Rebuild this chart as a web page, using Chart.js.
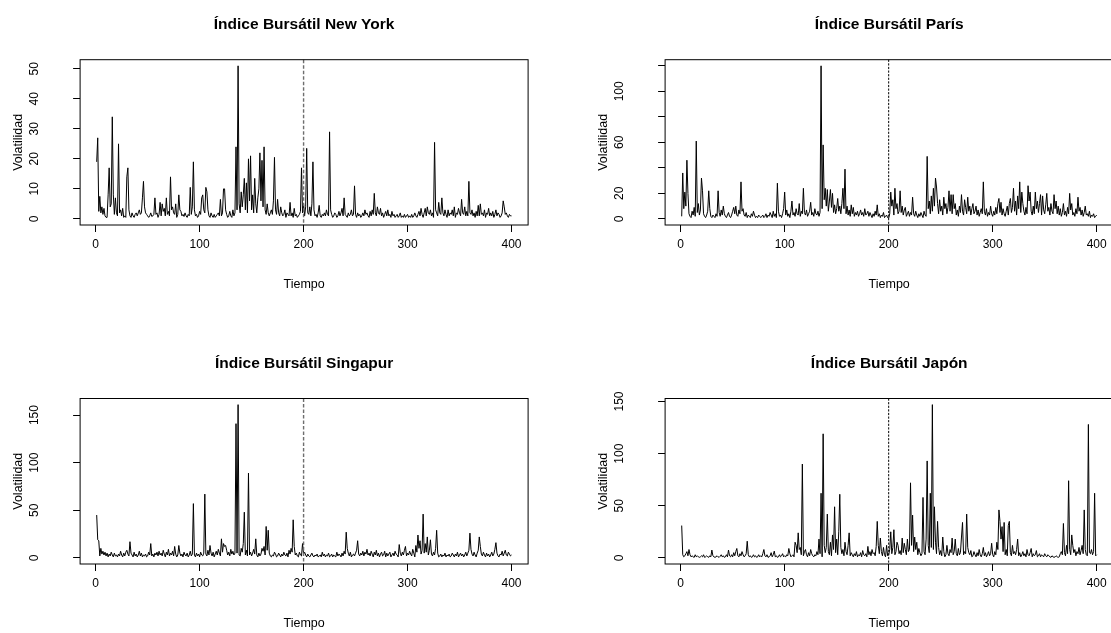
<!DOCTYPE html>
<html>
<head>
<meta charset="utf-8">
<script src="https://cdn.jsdelivr.net/npm/chart.js@4.4.1/dist/chart.umd.min.js"></script>
<style>
	html, body { margin: 0; padding: 0; background: #fff; overflow: hidden; }
	#hoja { position: relative; width: 1111px; height: 633px; overflow: hidden; background: #fff; }
	#hoja canvas { position: absolute; }
</style>
</head>
<body>
<div id="hoja"></div>
<script type="text/javascript">

// eje x: tiempo 1..400, linea de corte en t = 200
var tiempo = [];
for (var i = 1; i <= 400; i++) tiempo.push(i);
var ticksTiempo = [0, 100, 200, 300, 400];
var rangoTiempo = [-14.96, 415.96];
var corte = 200;

// volatilidad (20 valores por fila)
var volNY = [
	19, 27, 2.5, 7.5, 2, 4, 1.5, 3.5, 1, 0.5, 0.5, 8, 17, 4, 5, 34, 8, 1.5, 7, 2,
	1, 25, 2, 3, 1, 3.5, 0.5, 1, 0.5, 14, 17, 3, 1, 0.5, 2, 1, 0.5, 1.5, 2, 1,
	2, 3, 1.5, 2, 7, 12.5, 4, 2, 1.5, 1, 0.5, 1, 2, 0.8, 1, 1.5, 7, 1.5, 2, 0.5,
	1.5, 5.5, 1, 5, 2.5, 3.5, 1, 7, 1.5, 2.5, 1, 14, 3, 4, 2, 1.5, 5, 0.5, 1.5, 8,
	3, 2.5, 1, 1.5, 0.8, 2, 1, 0.5, 1.5, 1, 10.5, 1.5, 4, 19, 3, 1, 1.5, 0.5, 1, 2.5,
	1.5, 7, 8, 3, 2, 10.5, 9, 3, 1, 0.5, 2, 1, 0.5, 1.5, 0.5, 1, 1.5, 2, 1, 6.5,
	1, 2, 10, 10, 3, 1.5, 0.5, 1, 2.5, 1, 0.5, 3, 1, 2, 24, 3, 51, 5, 2, 9,
	4, 8, 13.5, 3, 12, 2, 20, 6, 21, 3, 8, 2, 13.5, 5, 2, 7, 10, 22, 6, 19.5,
	4, 24, 3, 1.5, 5, 2, 1, 2, 3, 1.5, 6, 20.5, 3, 1.5, 6.5, 2, 1, 4, 2, 1,
	1.5, 3, 0.5, 2, 1.5, 1, 5.5, 1, 2, 0.5, 3.5, 1, 1.5, 0.5, 1, 1.5, 2.5, 17, 2, 5,
	1, 4, 23.5, 2, 1.5, 4, 1, 5, 19, 3, 1, 1.5, 0.5, 2, 4.5, 1, 0.5, 1.5, 1, 2,
	1, 3, 1.5, 1, 29, 3, 1.5, 0.5, 1, 2, 1.5, 0.5, 1, 2.5, 1, 2, 3.5, 1, 7, 1.5,
	1, 0.5, 2, 1, 1.5, 3, 1, 1.5, 11, 1.5, 0.5, 2, 1, 1.5, 0.5, 1, 2, 1, 3, 1.5,
	2, 1, 0.5, 2.5, 1, 3, 1.5, 8.5, 2, 1, 4, 2, 1.5, 3.5, 1, 2, 0.5, 1.5, 2.5, 1,
	3, 1, 1.5, 0.5, 2.5, 1, 1.5, 0.5, 1, 1.5, 0.5, 1, 2, 0.5, 1, 0.5, 1.5, 0.5, 1, 1.5,
	0.5, 1, 0.5, 1.5, 0.5, 1, 2, 1, 0.5, 1.5, 2.5, 1, 3.5, 1.5, 0.5, 2, 3.5, 1, 4, 2,
	1.5, 3, 1, 2, 0.5, 25.5, 3, 2, 1, 5.5, 2, 1.5, 7, 2, 1, 3, 1.5, 0.5, 3, 1,
	2, 1.5, 3, 1, 4, 0.5, 2, 1.5, 3.5, 2, 1, 6.5, 2, 1.5, 4, 1, 2.5, 1, 12.5, 2,
	1.5, 3, 1, 2, 0.5, 2.5, 1, 4.5, 1, 5, 1.5, 2, 1, 3, 0.5, 2, 1.5, 3.5, 1, 2,
	1, 2.5, 0.5, 1.5, 3, 1, 2, 1.5, 0.5, 1, 2, 6, 4, 1.5, 2, 1, 0.5, 1.5, 1, 1
];

var volParis = [
	2, 36, 8, 21, 10, 46, 20, 4, 2, 1, 6, 3, 9, 2, 61, 5, 12, 3, 7, 32,
	22, 4, 2, 1, 3, 6, 22, 8, 2, 1, 3, 2, 1, 4, 2, 22, 5, 2, 7, 3,
	10, 4, 2, 1, 3, 5, 2, 1, 3, 6, 9, 4, 10, 3, 2, 7, 4, 29, 6, 8,
	3, 2, 5, 1, 3, 2, 1, 4, 2, 6, 3, 1, 2, 1, 3, 2, 1, 2, 3, 1,
	2, 4, 1, 3, 2, 5, 3, 1, 6, 2, 4, 1, 28, 6, 2, 3, 1, 4, 8, 21,
	3, 7, 2, 4, 1, 6, 14, 3, 5, 2, 8, 4, 3, 12, 2, 6, 4, 24, 5, 3,
	7, 2, 4, 6, 13, 3, 5, 2, 8, 4, 3, 6, 2, 5, 120, 8, 58, 15, 24, 10,
	23, 6, 14, 23, 9, 20, 5, 11, 4, 8, 16, 6, 10, 4, 12, 24, 8, 39, 4, 10,
	3, 7, 2, 11, 4, 9, 2, 5, 3, 6, 2, 4, 7, 3, 5, 2, 8, 3, 4, 6,
	2, 5, 3, 1, 4, 2, 6, 3, 11, 2, 4, 1, 3, 2, 5, 1, 2, 3, 1, 0.5,
	4, 21, 10, 15, 3, 24, 8, 12, 4, 6, 22, 5, 10, 3, 7, 9, 2, 4, 6, 2,
	5, 3, 17, 4, 2, 6, 3, 1, 4, 2, 5, 3, 1, 6, 3, 2, 49, 8, 14, 4,
	18, 6, 24, 10, 32, 25, 12, 4, 15, 6, 10, 3, 17, 8, 12, 4, 9, 22, 6, 19,
	4, 19, 8, 12, 3, 7, 2, 10, 5, 19, 6, 3, 15, 9, 4, 17, 6, 10, 3, 8,
	12, 4, 6, 10, 3, 7, 2, 5, 8, 4, 29, 6, 3, 8, 2, 5, 3, 10, 4, 2,
	6, 3, 9, 4, 12, 16, 5, 13, 3, 8, 4, 2, 6, 10, 3, 12, 16, 5, 9, 24,
	6, 14, 3, 18, 8, 29, 5, 21, 12, 6, 3, 9, 4, 26, 14, 21, 6, 3, 10, 4,
	21, 8, 14, 5, 12, 19, 3, 18, 7, 4, 11, 20, 6, 9, 3, 12, 6, 4, 19, 8,
	14, 4, 10, 3, 8, 2, 5, 12, 3, 6, 2, 9, 4, 20, 7, 12, 3, 5, 2, 8,
	4, 17, 6, 9, 3, 7, 2, 5, 10, 3, 4, 2, 6, 1, 3, 2, 4, 1, 2, 3
];

var volSingapur = [
	45, 19, 18, 2, 10, 4, 7, 3, 6, 2, 5, 1, 4, 2, 6, 3, 1, 5, 2, 3,
	1, 4, 2, 7, 3, 1, 5, 2, 6, 8, 4, 2, 17, 5, 3, 1, 6, 2, 4, 1,
	3, 7, 2, 5, 1, 3, 2, 4, 1, 2, 6, 3, 15, 2, 4, 1, 5, 3, 6, 2,
	7, 3, 5, 2, 8, 4, 1, 6, 3, 9, 2, 5, 3, 7, 2, 12, 4, 1, 3, 13,
	5, 2, 4, 1, 6, 3, 2, 5, 1, 3, 7, 2, 4, 57, 3, 1, 5, 2, 4, 1,
	6, 3, 2, 5, 67, 4, 2, 8, 3, 13, 5, 2, 6, 1, 4, 7, 3, 9, 5, 2,
	20, 6, 15, 12, 13, 8, 3, 6, 2, 9, 4, 7, 3, 5, 141, 5, 161, 3, 2, 10,
	6, 15, 48, 3, 8, 2, 89, 3, 6, 2, 5, 9, 4, 20, 3, 1, 5, 2, 4, 10,
	7, 12, 3, 33, 8, 29, 5, 2, 1, 3, 2, 6, 4, 1, 2, 5, 3, 1, 4, 2,
	6, 3, 2, 5, 1, 8, 4, 10, 6, 40, 12, 3, 5, 2, 1, 6, 3, 2, 15, 4,
	6, 3, 1, 4, 2, 1, 3, 5, 2, 1, 3, 2, 4, 1, 2, 3, 1, 6, 2, 4,
	1, 3, 2, 5, 1, 2, 4, 1, 3, 2, 1, 6, 2, 4, 3, 1, 5, 2, 7, 4,
	27, 10, 5, 2, 6, 1, 3, 4, 2, 5, 8, 18, 4, 2, 5, 3, 7, 2, 6, 4,
	9, 3, 5, 2, 7, 4, 1, 6, 3, 8, 2, 5, 1, 4, 6, 2, 3, 7, 1, 5,
	2, 4, 6, 1, 3, 5, 2, 7, 4, 3, 1, 14, 5, 2, 6, 3, 8, 12, 2, 5,
	3, 7, 4, 2, 9, 5, 1, 13, 6, 24, 10, 18, 4, 8, 46, 5, 15, 6, 22, 3,
	8, 19, 4, 2, 6, 3, 10, 29, 5, 1, 2, 4, 1, 3, 2, 5, 1, 3, 2, 4,
	1, 2, 5, 3, 1, 4, 2, 6, 1, 3, 5, 2, 4, 1, 3, 6, 2, 5, 8, 26,
	9, 4, 2, 6, 3, 1, 5, 8, 22, 12, 4, 2, 6, 3, 1, 5, 2, 4, 1, 3,
	6, 2, 4, 9, 16, 5, 2, 1, 4, 3, 7, 2, 5, 8, 3, 2, 6, 4, 2, 3
];

var volJapon = [
	31, 3, 1, 2, 4, 6, 2, 8, 3, 1, 2, 1, 0.5, 3, 1, 2, 1, 0.5, 1, 2,
	1, 3, 0.5, 1, 2, 1, 0.5, 2, 1, 7.5, 2, 1, 0.5, 1, 2, 1, 0.5, 1.5, 3, 1,
	2, 0.5, 1, 3, 1, 7.5, 2, 1, 3, 1, 5, 2, 6, 9, 2, 1, 4, 2, 6, 3,
	1, 2, 4, 16, 3, 1, 2, 0.5, 1, 3, 1, 2, 0.5, 1, 3, 1, 2, 1, 4, 8,
	2, 1, 3, 0.5, 1, 2, 5, 1, 3, 6.5, 1, 2, 0.5, 1, 3, 1, 2, 4, 1, 2,
	1, 3, 2, 9, 4, 1, 2, 3, 1, 15, 12, 5, 24, 8, 10, 3, 90, 2, 6, 8,
	3, 1, 5, 2, 8, 4, 2, 1, 3, 2, 6, 3, 18, 4, 62, 1, 119, 12, 5, 10,
	42, 6, 3, 15, 2, 22, 8, 49, 5, 18, 3, 25, 61, 10, 4, 8, 2, 15, 6, 3,
	12, 24, 2, 5, 3, 1, 4, 2, 6, 1, 3, 2, 5, 1, 7, 3, 2, 4, 1, 11,
	3, 6, 2, 8, 4, 5, 2, 11, 35, 12, 4, 19, 6, 2, 10, 3, 1, 12, 2, 3,
	8, 25, 4, 10, 27, 3, 6, 15, 12, 4, 7, 3, 19, 5, 14, 8, 3, 18, 6, 8,
	72, 12, 41, 6, 20, 8, 15, 3, 9, 5, 2, 4, 58, 6, 3, 18, 93, 12, 5, 62,
	10, 147, 8, 49, 15, 4, 35, 10, 3, 7, 2, 20, 6, 1, 3, 12, 4, 2, 8, 5,
	19, 3, 6, 18, 4, 2, 9, 3, 5, 20, 34, 3, 6, 4, 42, 10, 5, 3, 7, 1,
	2, 6, 3, 1, 5, 2, 8, 3, 1, 4, 10, 2, 5, 1, 3, 6, 2, 4, 14, 3,
	1, 6, 3, 15, 8, 46, 35, 18, 30, 6, 34, 3, 8, 2, 31, 35, 5, 2, 12, 4,
	6, 3, 8, 18, 2, 5, 1, 3, 6, 2, 4, 1, 8, 3, 2, 5, 9, 1, 4, 2,
	3, 7, 1, 2, 4, 1, 3, 2, 1, 4, 2, 1, 3, 2, 1, 0.5, 2, 1, 0.5, 1,
	2, 1, 0.5, 1, 4, 6, 3, 33, 5, 2, 12, 4, 74, 8, 3, 22, 12, 5, 8, 2,
	6, 4, 10, 3, 7, 12, 4, 46, 8, 3, 2, 128, 5, 4, 8, 3, 6, 62, 2, 3
];

// ejes y: marcas, etiquetas (R omite las que se solapan) y rango
var ticksNY = [0, 10, 20, 30, 40, 50];
var etiqNY = ['0', '10', '20', '30', '40', '50'];
var rangoNY = [-2.04, 53.04];

var ticksParis = [0, 20, 40, 60, 80, 100, 120];
var etiqParis = ['0', '20', '', '60', '', '100', ''];
var rangoParis = [-4.8, 124.8];

var ticksSingapur = [0, 50, 100, 150];
var etiqSingapur = ['0', '50', '100', '150'];
var rangoSingapur = [-6.44, 167.44];

var ticksJapon = [0, 50, 100, 150];
var etiqJapon = ['0', '50', '100', '150'];
var rangoJapon = [-5.88, 152.88];

[volNY, volParis, volSingapur, volJapon].forEach(function(s, k) {
	if (s.length !== tiempo.length) throw new Error('serie ' + k + ': ' + s.length + ' valores');
});

var FUENTE = '"Liberation Sans", Arial, Helvetica, sans-serif';
Chart.defaults.font.family = FUENTE;
Chart.defaults.color = '#000';

var W = 565, H = 330;                        // tamano de cada lienzo
var TAM = 12, TAM_EJE = 12.5, TAM_TIT = 15.5; // fuentes

// posicion del area de dibujo en la pagina: [izq, arriba, der, abajo]
var paneles = [
	{ titulo: 'Índice Bursátil New York', serie: volNY, ticks: ticksNY, etiq: etiqNY, rango: rangoNY,
	  x0: 0, y0: 0, area: [80.1, 59.7, 528.1, 225], corte: { color: '#6e6e6e', ancho: 1.4, guion: [3.5, 2] } },
	{ titulo: 'Índice Bursátil París', serie: volParis, ticks: ticksParis, etiq: etiqParis, rango: rangoParis,
	  x0: 555, y0: 0, area: [665.1, 59.7, 1113.3, 225], corte: { color: '#000', ancho: 1, guion: [2.2, 1.4] } },
	{ titulo: 'Índice Bursátil Singapur', serie: volSingapur, ticks: ticksSingapur, etiq: etiqSingapur, rango: rangoSingapur,
	  x0: 0, y0: 316, area: [80.1, 398.5, 528.1, 564], corte: { color: '#6e6e6e', ancho: 1.4, guion: [3.5, 2] } },
	{ titulo: 'Índice Bursátil Japón', serie: volJapon, ticks: ticksJapon, etiq: etiqJapon, rango: rangoJapon,
	  x0: 555, y0: 316, area: [665.1, 398.5, 1113.3, 564], corte: { color: '#000', ancho: 1, guion: [2.2, 1.4] } }
];

// caja alrededor del grafico y linea discontinua en t = 200
var marco = {
	id: 'marco',
	afterDatasetsDraw: function(chart, args, opts) {
		var ctx = chart.ctx, a = chart.chartArea;
		var x = chart.scales.x.getPixelForValue(corte);
		ctx.save();
		ctx.strokeStyle = opts.color;
		ctx.lineWidth = opts.ancho;
		ctx.setLineDash(opts.guion);
		ctx.beginPath();
		ctx.moveTo(x, a.top);
		ctx.lineTo(x, a.bottom);
		ctx.stroke();
		ctx.setLineDash([]);
		ctx.strokeStyle = '#000';
		ctx.lineWidth = 1;
		ctx.strokeRect(a.left, a.top, a.right - a.left, a.bottom - a.top);
		ctx.restore();
	}
};

var medidor = document.createElement('canvas').getContext('2d');
medidor.font = TAM + 'px ' + FUENTE;

function dibujar(p) {
	var canvas = document.createElement('canvas');
	canvas.width = W;
	canvas.height = H;
	canvas.style.left = p.x0 + 'px';
	canvas.style.top = p.y0 + 'px';
	document.getElementById('hoja').appendChild(canvas);

	var izq = p.area[0] - p.x0, arr = p.area[1] - p.y0;
	var der = p.area[2] - p.x0, aba = p.area[3] - p.y0;
	var altoX = 70;
	var lhTit = TAM_TIT * 1.2, lh = TAM_EJE * 1.2;

	var ancho = 0;
	p.etiq.forEach(function(t) { ancho = Math.max(ancho, medidor.measureText(t).width); });

	var puntos = p.serie.map(function(v, i) { return { x: tiempo[i], y: v }; });

	new Chart(canvas.getContext('2d'), {
		type: 'line',
		data: {
			datasets: [{
				data: puntos,
				borderColor: '#000',
				borderWidth: 1,
				pointRadius: 0,
				tension: 0,
				fill: false
			}]
		},
		options: {
			responsive: false,
			animation: false,
			devicePixelRatio: 1,
			layout: { padding: { left: 0, top: 0, right: W - der, bottom: H - aba - altoX } },
			scales: {
				x: {
					type: 'linear',
					min: rangoTiempo[0],
					max: rangoTiempo[1],
					afterBuildTicks: function(s) { s.ticks = ticksTiempo.map(function(v) { return { value: v }; }); },
					afterFit: function(s) { s.height = altoX; },
					border: { display: false },
					grid: { drawOnChartArea: false, drawTicks: true, tickLength: 7, color: '#000', lineWidth: 1 },
					ticks: { autoSkip: false, maxRotation: 0, padding: 5.8, font: { size: TAM }, color: '#000',
						callback: function(v) { return String(v); } },
					title: { display: true, text: 'Tiempo', color: '#000', font: { size: TAM_EJE },
						padding: { top: 0, bottom: altoX - 59.5 - lh / 2 } }
				},
				y: {
					type: 'linear',
					min: p.rango[0],
					max: p.rango[1],
					afterBuildTicks: function(s) { s.ticks = p.ticks.map(function(v) { return { value: v }; }); },
					afterFit: function(s) { s.width = izq; },
					border: { display: false },
					grid: { drawOnChartArea: false, drawTicks: true, tickLength: 7, color: '#000', lineWidth: 1 },
					ticks: { autoSkip: false, minRotation: 90, maxRotation: 90, crossAlign: 'center',
						padding: 45.5 - 7 - ancho / 2, font: { size: TAM }, color: '#000',
						callback: function(v, k) { return p.etiq[k]; } },
					title: { display: true, text: 'Volatilidad', color: '#000', font: { size: TAM_EJE },
						padding: { top: izq - 61.5 - lh / 2, bottom: 0 } }
				}
			},
			plugins: {
				legend: { display: false },
				tooltip: { enabled: false },
				title: {
					display: true,
					text: p.titulo,
					fullSize: false,
					color: '#000',
					font: { size: TAM_TIT, weight: 'bold' },
					padding: { top: arr - 34.6 - lhTit / 2, bottom: 34.6 - lhTit / 2 }
				},
				marco: p.corte
			}
		},
		plugins: [marco]
	});
}

paneles.forEach(dibujar);

</script>
</body>
</html>
